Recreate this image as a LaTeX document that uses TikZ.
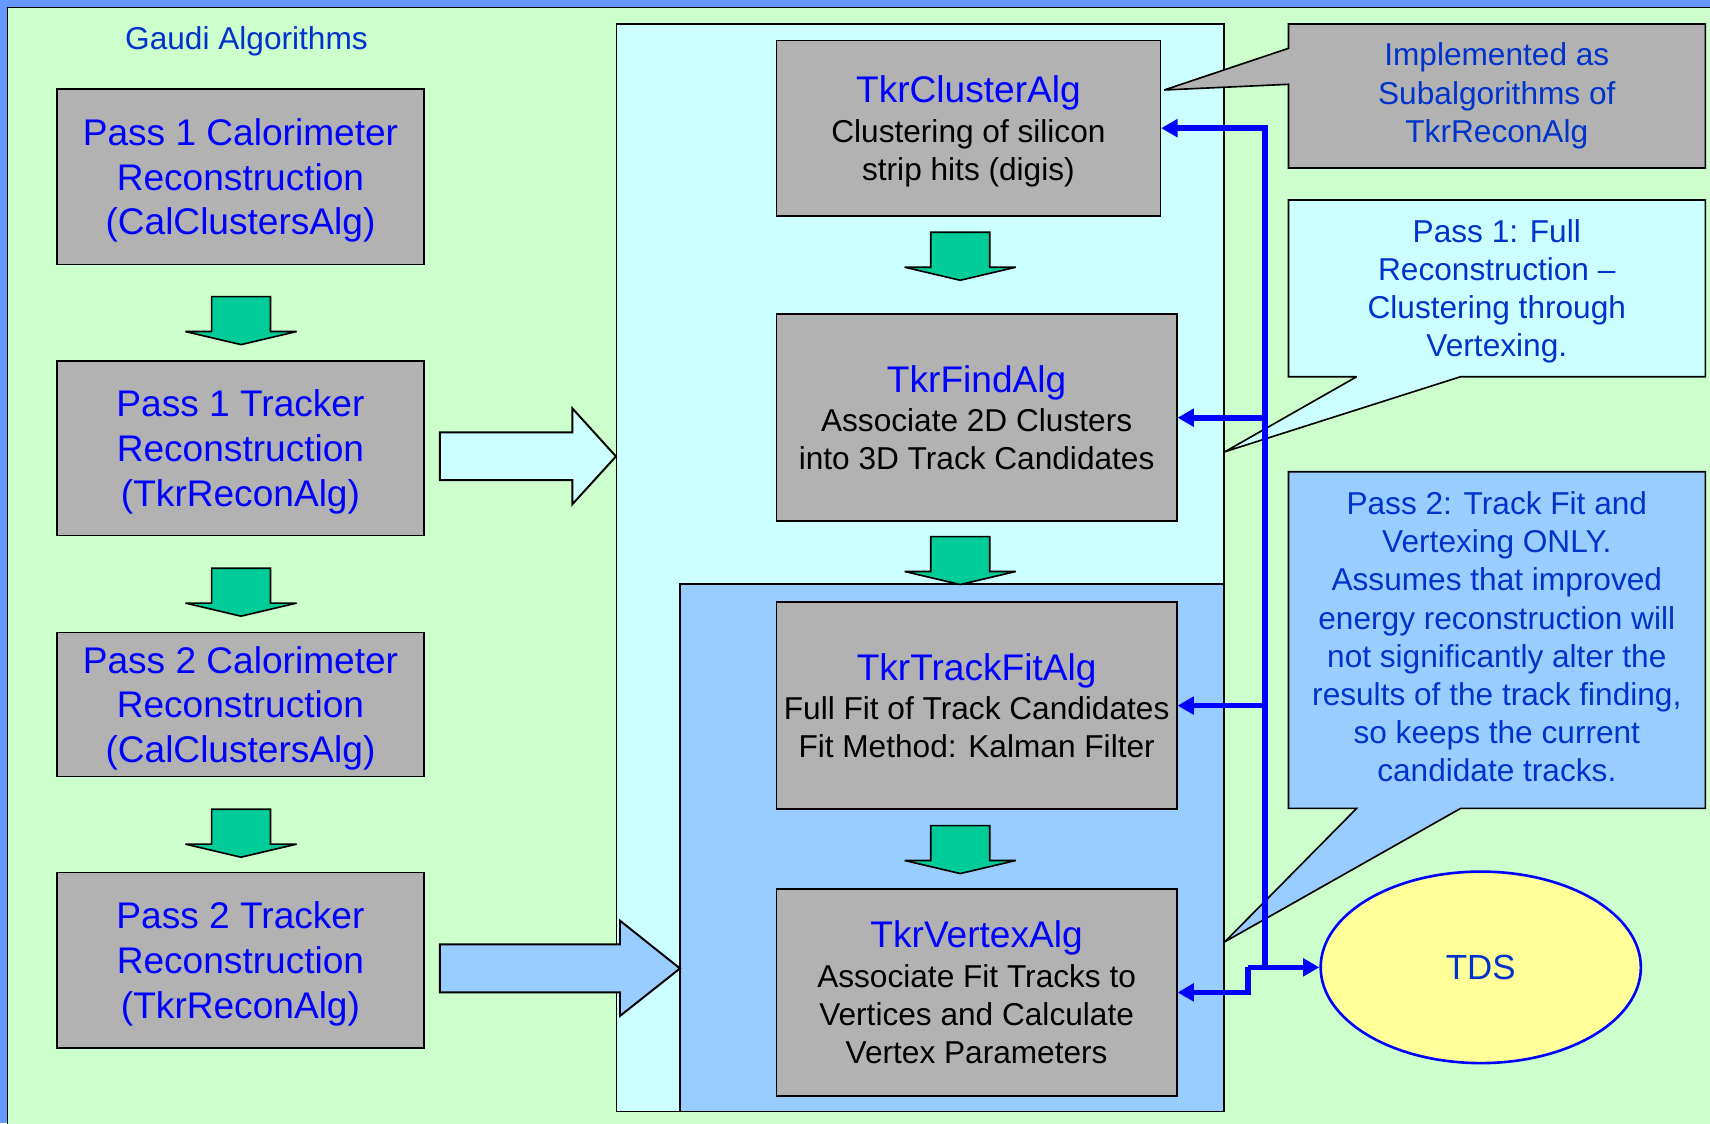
\documentclass[tikz,border=0pt]{standalone}
\usepackage{fontspec}
\setmainfont{Liberation Sans}
\usetikzlibrary{arrows.meta, positioning, calc, shapes.geometric}
\definecolor{bgblue}{HTML}{6699FF}
\definecolor{bggreen}{HTML}{CCFFCC}
\definecolor{panelcyan}{HTML}{CCFFFF}
\definecolor{panelblue}{HTML}{99CCFF}
\definecolor{boxgray}{HTML}{B2B2B2}
\definecolor{flowgreen}{HTML}{00CC99}
\definecolor{tdsyellow}{HTML}{FFFF99}
\definecolor{titleblue}{HTML}{0000FF}
\definecolor{noteblue}{HTML}{0033CC}

% block arrow pointing down, #1 = centre x, #2 = top y
\newcommand{\flowdown}[2]{%
  \draw[flowarrow] (#1-27,#2) -- (#1+27,#2) -- (#1+27,#2+32) -- (#1+51,#2+32)
    -- (#1,#2+44) -- (#1-51,#2+32) -- (#1-27,#2+32) -- cycle;}
\newcommand{\algtitle}[1]{{\color{titleblue}\fontsize{17}{20}\selectfont #1}}

\begin{document}
\begin{tikzpicture}[x=0.5pt, y=-0.5pt,
    passbox/.style={draw, line width=0.75pt, fill=boxgray, text=titleblue, align=center,
      inner sep=0pt, minimum width=168.5pt, text depth=0pt, font=\fontsize{17}{20.5}\selectfont},
    algbox/.style={draw, line width=0.75pt, fill=boxgray, align=center, inner sep=0pt,
      minimum width=183.5pt, minimum height=95pt, font=\fontsize{14.5}{17.5}\selectfont},
    notetext/.style={text=noteblue, align=center, font=\fontsize{14.5}{17.5}\selectfont},
    flowarrow/.style={draw, line width=0.75pt, fill=flowgreen, miter limit=2},
    bigarrow/.style={draw, line width=0.9pt, miter limit=3},
    callout/.style={draw, line width=0.75pt, miter limit=3},
    bus/.style={draw=titleblue, line width=2.6pt},
    bustip/.style={-{Triangle[length=7.5pt, width=8pt]}}]
  \clip (0,0) rectangle (1568,1030);
  % background
  \fill[bgblue] (0,0) rectangle (1568,1030);
  \draw[line width=0.6pt, fill=bggreen] (7,7) rectangle (1590,1050);
  \node[notetext] (gaudi) at (226,38) {Gaudi Algorithms};

  % left column
  \node[passbox, minimum height=80.5pt] (pass1cal) at (220.5,162) {Pass 1 Calorimeter\\Reconstruction\\(CalClustersAlg)};
  \node[passbox, minimum height=80pt] (pass1tkr) at (220.5,411) {Pass 1 Tracker\\Reconstruction\\(TkrReconAlg)};
  \node[passbox, minimum height=66pt] (pass2cal) at (220.5,646) {Pass 2 Calorimeter\\Reconstruction\\(CalClustersAlg)};
  \node[passbox, minimum height=80.5pt] (pass2tkr) at (220.5,880.5) {Pass 2 Tracker\\Reconstruction\\(TkrReconAlg)};
  \flowdown{221}{272}
  \flowdown{221}{521}
  \flowdown{221}{742}

  % panels
  \draw[line width=0.75pt, fill=panelcyan] (565.4,22) rectangle (1122.5,1019.3);
  \draw[line width=0.75pt, fill=panelblue] (623.5,535.5) rectangle (1122.5,1019.3);

  % block arrows into the panels
  \draw[bigarrow, fill=panelcyan] (403.4,396.5) -- (524.8,396.5) -- (524.8,374.4) -- (564.8,418.5)
    -- (524.8,462.4) -- (524.8,440.2) -- (403.4,440.2) -- cycle;
  \draw[bigarrow, fill=panelblue] (403.4,866) -- (568.5,866) -- (568.5,844.2) -- (623.5,888)
    -- (568.5,931.6) -- (568.5,910) -- (403.4,910) -- cycle;

  % tracker sub-algorithms
  \node[algbox, minimum width=176pt, minimum height=80.5pt, text depth=0pt] (cluster) at (888,117.5)
    {\algtitle{TkrClusterAlg}\\[0.5pt]Clustering of silicon\\strip hits (digis)};
  \node[algbox] (find) at (895.5,383)
    {\algtitle{TkrFindAlg}\\[0.5pt]Associate 2D Clusters\\into 3D Track Candidates};
  \node[algbox] (fit) at (895.5,647)
    {\algtitle{TkrTrackFitAlg}\\[0.5pt]Full Fit of Track Candidates\\Fit Method: Kalman Filter};
  \node[algbox] (vertex) at (895.5,910)
    {\algtitle{TkrVertexAlg}\\[0.5pt]Associate Fit Tracks to\\Vertices and Calculate\\Vertex Parameters};
  \flowdown{880.5}{213}
  \flowdown{880.5}{492}
  \flowdown{880.5}{757}

  % callouts
  \draw[callout, fill=boxgray] (1181.5,22) -- (1563.7,22) -- (1563.7,154) -- (1181.5,154)
    -- (1181.5,77.3) -- (1067.6,82.5) -- (1181.5,44.3) -- cycle;
  \node[notetext] (subalg) at (1372.5,88) {Implemented as\\Subalgorithms of\\TkrReconAlg};
  \draw[callout, fill=panelcyan] (1181.5,183.4) -- (1563.7,183.4) -- (1563.7,345.4) -- (1339.4,345.4)
    -- (1123.2,414.2) -- (1244,345.4) -- (1181.5,345.4) -- cycle;
  \node[notetext] (passone) at (1372.5,267) {Pass 1: Full\\Reconstruction –\\Clustering through\\Vertexing.};
  \draw[callout, fill=panelblue] (1181.5,432.5) -- (1563.7,432.5) -- (1563.7,741.2) -- (1339.4,741.2)
    -- (1123.2,863.5) -- (1244,741.2) -- (1181.5,741.2) -- cycle;
  \node[notetext] (passtwo) at (1372.5,584) {Pass 2: Track Fit and\\Vertexing ONLY.\\Assumes that improved\\energy reconstruction will\\not significantly alter the\\results of the track finding,\\so keeps the current\\candidate tracks.};

  % transient data store
  \node[ellipse, draw=titleblue, line width=1.2pt, fill=tdsyellow, inner sep=0pt,
    minimum width=146.8pt, minimum height=87.8pt, text=noteblue,
    font=\fontsize{16}{19}\selectfont] (tds) at (1357.8,887) {TDS};

  % data bus
  \coordinate (busx) at (1160,0);
  \coordinate (jog) at (1144.5,887);
  \draw[bus, bustip] (busx |- tds.west) -- (cluster.east -| busx) -- (cluster.east);
  \draw[bus, bustip] (find.east -| busx) -- (find.east);
  \draw[bus, bustip] (fit.east -| busx) -- (fit.east);
  \draw[bus, bustip] (jog) -- (tds.west);
  \draw[bus, bustip] (jog) |- (vertex.east);
\end{tikzpicture}
\end{document}
